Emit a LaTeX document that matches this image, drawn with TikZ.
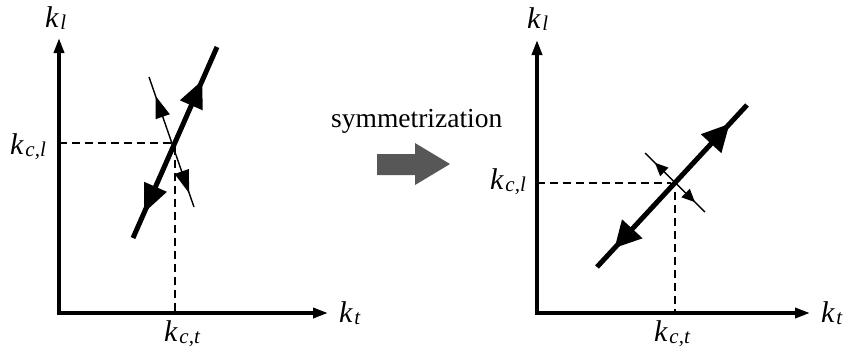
\documentclass[tikz,border=0pt]{standalone}
\usepackage{fontspec}
\setmainfont{Liberation Serif}
\usetikzlibrary{arrows.meta,calc}
\newcommand\klab[2]{\textit{k}\hspace{1.5pt}\raisebox{-2pt}{\fontsize{21}{21}\selectfont\textit{#2}}}
% filled arrow head: #1 base, #2 tip, #3 half width
\newcommand\headtri[3]{\fill ($(#1)!#3!90:(#2)$) -- (#2) -- ($(#1)!#3!-90:(#2)$) -- cycle;}
\begin{document}
\begin{tikzpicture}[x=1pt,y=-1pt,
  axisline/.style={line width=3.5pt,line join=miter,{Triangle[length=15pt,width=10pt]}-{Triangle[length=15pt,width=10pt]}},
  bigline/.style={line width=5pt},
  thinline/.style={line width=1.4pt},
  guide/.style={line width=1.1pt,dash pattern=on 8pt off 5pt},
  lab/.style={inner sep=0pt,anchor=base west,font=\fontsize{30}{30}\selectfont},
  every node/.style={inner sep=0pt}]
\useasboundingbox (0,0) rectangle (844,349);

% ---------- left panel ----------
\coordinate (LY) at (59,38);
\coordinate (LO) at (59,313);
\coordinate (LX) at (328,313);
\draw[axisline] (LY) -- (LO) -- (LX);

\coordinate (LA) at (133,238);
\coordinate (LB) at (217,47);
\draw[bigline] (LA) -- (LB);
\coordinate (LUb) at (191.3,105.3); \coordinate (LUt) at (202.1,80.6);
\coordinate (LDb) at (155.5,186.8); \coordinate (LDt) at (144.3,212.4);
\headtri{LUb}{LUt}{12.5pt}
\headtri{LDb}{LDt}{12.5pt}

\coordinate (LC) at (149,77);
\coordinate (LD) at (194,207);
\draw[thinline] (LC) -- (LD);
\coordinate (LtUb) at (162.7,116.7); \coordinate (LtUt) at (155.5,95.9);
\coordinate (LtDb) at (181.7,171.5); \coordinate (LtDt) at (189.2,193.2);
\headtri{LtUb}{LtUt}{7.5pt}
\headtri{LtDb}{LtDt}{7.5pt}

\coordinate (LH0) at (59,143);
\coordinate (LH1) at (173,143);
\coordinate (LV0) at (175,147);
\coordinate (LV1) at (175,313);
\draw[guide] (LH0) -- (LH1);
\draw[guide] (LV0) -- (LV1);

\node[lab] (lkl) at (45,27) {\klab{k}{l}};
\node[lab] (lkcl) at (10,154) {\klab{k}{c,l}};
\node[lab] (lkct) at (164,341) {\klab{k}{c,t}};
\node[lab] (lkt) at (339,322) {\klab{k}{t}};

% ---------- middle ----------
\node[inner sep=0pt,anchor=base west,font=\fontsize{27.5}{27.5}\selectfont] (sym) at (331,127) {symmetrization};
\fill[fill=black!66] (377,154) -- (415,154) -- (415,143) -- (450,164) -- (415,185) -- (415,175) -- (377,175) -- cycle;

% ---------- right panel ----------
\coordinate (RY) at (537,40);
\coordinate (RO) at (537,313);
\coordinate (RX) at (810,313);
\draw[axisline] (RY) -- (RO) -- (RX);

\coordinate (RA) at (597,267);
\coordinate (RB) at (747,105);
\draw[bigline] (RA) -- (RB);
\coordinate (RUb) at (711.1,143.7); \coordinate (RUt) at (729.4,123.9);
\coordinate (RDb) at (632.3,228.8); \coordinate (RDt) at (614.7,247.9);
\headtri{RUb}{RUt}{14pt}
\headtri{RDb}{RDt}{14pt}

\coordinate (RC) at (645,153);
\coordinate (RD) at (705,212);
\draw[thinline] (RC) -- (RD);
\coordinate (RtUb) at (664.3,171.9); \coordinate (RtUt) at (655,162.8);
\coordinate (RtDb) at (685.6,193); \coordinate (RtDt) at (694.9,202.1);
\headtri{RtUb}{RtUt}{6pt}
\headtri{RtDb}{RtDt}{6pt}

\coordinate (RH0) at (537,183);
\coordinate (RH1) at (671,183);
\coordinate (RV0) at (675,192);
\coordinate (RV1) at (675,313);
\draw[guide] (RH0) -- (RH1);
\draw[guide] (RV0) -- (RV1);

\node[lab] (rkl) at (527,28) {\klab{k}{l}};
\node[lab] (rkcl) at (490,189) {\klab{k}{c,l}};
\node[lab] (rkct) at (654,341) {\klab{k}{c,t}};
\node[lab] (rkt) at (821,322) {\klab{k}{t}};
\end{tikzpicture}
\end{document}
